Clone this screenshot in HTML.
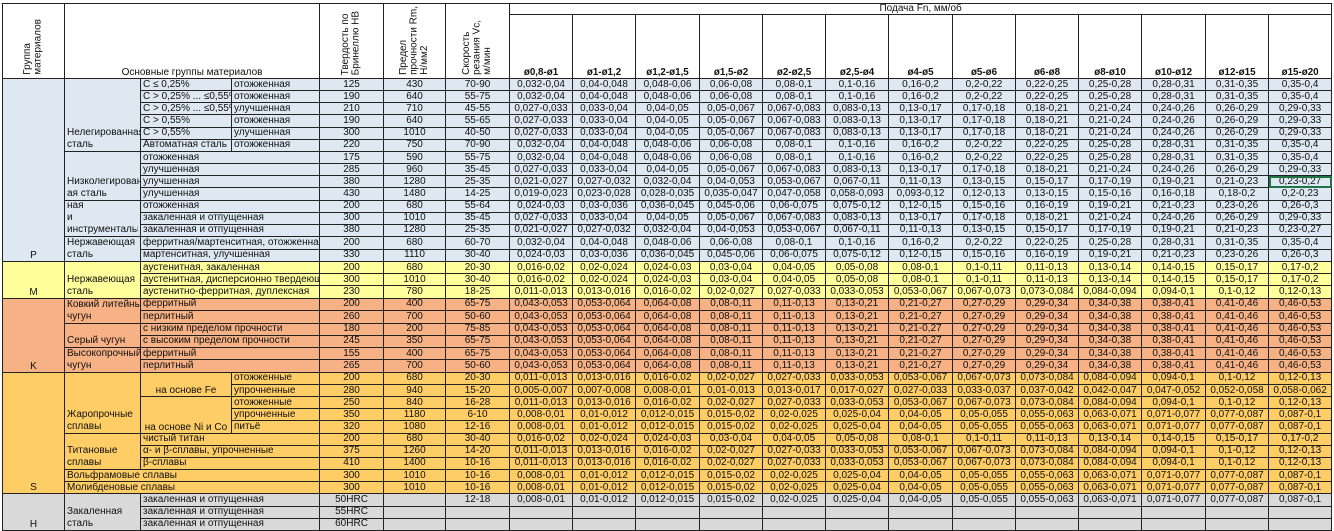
<!DOCTYPE html>
<html><head><meta charset="utf-8">
<style>
html,body{margin:0;padding:0;background:#fff;width:1334px;height:530px;overflow:hidden}
body{font-family:"Liberation Sans",Arial,sans-serif;font-size:10px;color:#111}
.top{position:absolute;left:0;top:0;width:1334px;height:3px;background:#fff;border-bottom:1px solid #d4d4d4}
table{position:absolute;left:2px;top:3px;border-collapse:collapse;table-layout:fixed;width:1329px}
td{border:1px solid #222;padding:0 2px;height:11.1px;line-height:10px;white-space:nowrap;overflow:hidden;text-align:center;font-size:10px}
tr{height:12.16px}
td.l{text-align:left}
td.b{vertical-align:bottom}
.h td{background:#fff}
.v{writing-mode:vertical-rl;transform:rotate(180deg);display:inline-block;text-align:left;line-height:10.5px;font-size:10px}
.ft{font-weight:bold;vertical-align:bottom;font-size:9.8px}
.p td{background:#dde8f3}
.m td{background:#ffff9c}
.k td{background:#f6b185}
.s td{background:#ffcd66}
.hh td{background:#d9d9d9}
.wr{white-space:nowrap;text-align:left;vertical-align:bottom;line-height:12px}
</style></head><body>
<div class="top"></div>
<table>
<colgroup>
<col style="width:62px"><col style="width:76px"><col style="width:91px"><col style="width:88px"><col style="width:64px"><col style="width:62px"><col style="width:64px">
<col style="width:63px"><col style="width:63px"><col style="width:64px"><col style="width:63px"><col style="width:63px"><col style="width:63px"><col style="width:64px"><col style="width:63px"><col style="width:63px"><col style="width:63px"><col style="width:64px"><col style="width:63px"><col style="width:63px">
</colgroup>
<tr class="h" style="height:11px"><td rowspan="2" class="b"><span class="v">Группа<br>материалов</span></td><td rowspan="2" colspan="3" class="b">Основные группы материалов</td><td rowspan="2" class="b"><span class="v">Твердость по<br>Бринеллю HB</span></td><td rowspan="2" class="b"><span class="v">Предел<br>прочности Rm,<br>Н/мм2</span></td><td rowspan="2" class="b"><span class="v">Скорость<br>резания Vc,<br>м/мин</span></td><td colspan="13" style="height:10px">Подача Fn, мм/об</td></tr>
<tr class="h" style="height:64px"><td class="ft">ø0,8-ø1</td><td class="ft">ø1-ø1,2</td><td class="ft">ø1,2-ø1,5</td><td class="ft">ø1,5-ø2</td><td class="ft">ø2-ø2,5</td><td class="ft">ø2,5-ø4</td><td class="ft">ø4-ø5</td><td class="ft">ø5-ø6</td><td class="ft">ø6-ø8</td><td class="ft">ø8-ø10</td><td class="ft">ø10-ø12</td><td class="ft">ø12-ø15</td><td class="ft">ø15-ø20</td></tr>

<tr class="p"><td rowspan="15" class="b">P</td><td rowspan="6" class="wr">Нелегированная<br>сталь</td><td class="l">C ≤ 0,25%</td><td class="l">отожженная</td><td>125</td><td>430</td><td>70-90</td><td>0,032-0,04</td><td>0,04-0,048</td><td>0,048-0,06</td><td>0,06-0,08</td><td>0,08-0,1</td><td>0,1-0,16</td><td>0,16-0,2</td><td>0,2-0,22</td><td>0,22-0,25</td><td>0,25-0,28</td><td>0,28-0,31</td><td>0,31-0,35</td><td>0,35-0,4</td></tr>
<tr class="p"><td class="l">C &gt; 0,25% ... ≤0,55%</td><td class="l">отожженная</td><td>190</td><td>640</td><td>55-75</td><td>0,032-0,04</td><td>0,04-0,048</td><td>0,048-0,06</td><td>0,06-0,08</td><td>0,08-0,1</td><td>0,1-0,16</td><td>0,16-0,2</td><td>0,2-0,22</td><td>0,22-0,25</td><td>0,25-0,28</td><td>0,28-0,31</td><td>0,31-0,35</td><td>0,35-0,4</td></tr>
<tr class="p"><td class="l">C &gt; 0,25% ... ≤0,55%</td><td class="l">улучшенная</td><td>210</td><td>710</td><td>45-55</td><td>0,027-0,033</td><td>0,033-0,04</td><td>0,04-0,05</td><td>0,05-0,067</td><td>0,067-0,083</td><td>0,083-0,13</td><td>0,13-0,17</td><td>0,17-0,18</td><td>0,18-0,21</td><td>0,21-0,24</td><td>0,24-0,26</td><td>0,26-0,29</td><td>0,29-0,33</td></tr>
<tr class="p"><td class="l">C &gt; 0,55%</td><td class="l">отожженная</td><td>190</td><td>640</td><td>55-65</td><td>0,027-0,033</td><td>0,033-0,04</td><td>0,04-0,05</td><td>0,05-0,067</td><td>0,067-0,083</td><td>0,083-0,13</td><td>0,13-0,17</td><td>0,17-0,18</td><td>0,18-0,21</td><td>0,21-0,24</td><td>0,24-0,26</td><td>0,26-0,29</td><td>0,29-0,33</td></tr>
<tr class="p"><td class="l">C &gt; 0,55%</td><td class="l">улучшенная</td><td>300</td><td>1010</td><td>40-50</td><td>0,027-0,033</td><td>0,033-0,04</td><td>0,04-0,05</td><td>0,05-0,067</td><td>0,067-0,083</td><td>0,083-0,13</td><td>0,13-0,17</td><td>0,17-0,18</td><td>0,18-0,21</td><td>0,21-0,24</td><td>0,24-0,26</td><td>0,26-0,29</td><td>0,29-0,33</td></tr>
<tr class="p"><td class="l">Автоматная сталь</td><td class="l">отожженная</td><td>220</td><td>750</td><td>70-90</td><td>0,032-0,04</td><td>0,04-0,048</td><td>0,048-0,06</td><td>0,06-0,08</td><td>0,08-0,1</td><td>0,1-0,16</td><td>0,16-0,2</td><td>0,2-0,22</td><td>0,22-0,25</td><td>0,25-0,28</td><td>0,28-0,31</td><td>0,31-0,35</td><td>0,35-0,4</td></tr>
<tr class="p"><td rowspan="4" class="wr">Низколегированн<br>ая сталь</td><td class="l" colspan="2">отожженная</td><td>175</td><td>590</td><td>55-75</td><td>0,032-0,04</td><td>0,04-0,048</td><td>0,048-0,06</td><td>0,06-0,08</td><td>0,08-0,1</td><td>0,1-0,16</td><td>0,16-0,2</td><td>0,2-0,22</td><td>0,22-0,25</td><td>0,25-0,28</td><td>0,28-0,31</td><td>0,31-0,35</td><td>0,35-0,4</td></tr>
<tr class="p"><td class="l" colspan="2">улучшенная</td><td>285</td><td>960</td><td>35-45</td><td>0,027-0,033</td><td>0,033-0,04</td><td>0,04-0,05</td><td>0,05-0,067</td><td>0,067-0,083</td><td>0,083-0,13</td><td>0,13-0,17</td><td>0,17-0,18</td><td>0,18-0,21</td><td>0,21-0,24</td><td>0,24-0,26</td><td>0,26-0,29</td><td>0,29-0,33</td></tr>
<tr class="p"><td class="l" colspan="2">улучшенная</td><td>380</td><td>1280</td><td>25-35</td><td>0,021-0,027</td><td>0,027-0,032</td><td>0,032-0,04</td><td>0,04-0,053</td><td>0,053-0,067</td><td>0,067-0,11</td><td>0,11-0,13</td><td>0,13-0,15</td><td>0,15-0,17</td><td>0,17-0,19</td><td>0,19-0,21</td><td>0,21-0,23</td><td style="outline:2px solid #217346;outline-offset:-2px">0,23-0,27</td></tr>
<tr class="p"><td class="l" colspan="2">улучшенная</td><td>430</td><td>1480</td><td>14-25</td><td>0,019-0,023</td><td>0,023-0,028</td><td>0,028-0,035</td><td>0,035-0,047</td><td>0,047-0,058</td><td>0,058-0,093</td><td>0,093-0,12</td><td>0,12-0,13</td><td>0,13-0,15</td><td>0,15-0,16</td><td>0,16-0,18</td><td>0,18-0,2</td><td>0,2-0,23</td></tr>
<tr class="p"><td rowspan="3" class="wr" style="padding-bottom:0"><div style="height:34px;overflow:hidden;display:flex;flex-direction:column;justify-content:flex-end">Высоколегирован<br>ная<br>и<br>инструментальна</div></td><td class="l" colspan="2">отожженная</td><td>200</td><td>680</td><td>55-64</td><td>0,024-0,03</td><td>0,03-0,036</td><td>0,036-0,045</td><td>0,045-0,06</td><td>0,06-0,075</td><td>0,075-0,12</td><td>0,12-0,15</td><td>0,15-0,16</td><td>0,16-0,19</td><td>0,19-0,21</td><td>0,21-0,23</td><td>0,23-0,26</td><td>0,26-0,3</td></tr>
<tr class="p"><td class="l" colspan="2">закаленная и отпущенная</td><td>300</td><td>1010</td><td>35-45</td><td>0,027-0,033</td><td>0,033-0,04</td><td>0,04-0,05</td><td>0,05-0,067</td><td>0,067-0,083</td><td>0,083-0,13</td><td>0,13-0,17</td><td>0,17-0,18</td><td>0,18-0,21</td><td>0,21-0,24</td><td>0,24-0,26</td><td>0,26-0,29</td><td>0,29-0,33</td></tr>
<tr class="p"><td class="l" colspan="2">закаленная и отпущенная</td><td>380</td><td>1280</td><td>25-35</td><td>0,021-0,027</td><td>0,027-0,032</td><td>0,032-0,04</td><td>0,04-0,053</td><td>0,053-0,067</td><td>0,067-0,11</td><td>0,11-0,13</td><td>0,13-0,15</td><td>0,15-0,17</td><td>0,17-0,19</td><td>0,19-0,21</td><td>0,21-0,23</td><td>0,23-0,27</td></tr>
<tr class="p"><td rowspan="2" class="wr">Нержавеющая<br>сталь</td><td class="l" colspan="2">ферритная/мартенситная, отожженная</td><td>200</td><td>680</td><td>60-70</td><td>0,032-0,04</td><td>0,04-0,048</td><td>0,048-0,06</td><td>0,06-0,08</td><td>0,08-0,1</td><td>0,1-0,16</td><td>0,16-0,2</td><td>0,2-0,22</td><td>0,22-0,25</td><td>0,25-0,28</td><td>0,28-0,31</td><td>0,31-0,35</td><td>0,35-0,4</td></tr>
<tr class="p"><td class="l" colspan="2">мартенситная, улучшенная</td><td>330</td><td>1110</td><td>30-40</td><td>0,024-0,03</td><td>0,03-0,036</td><td>0,036-0,045</td><td>0,045-0,06</td><td>0,06-0,075</td><td>0,075-0,12</td><td>0,12-0,15</td><td>0,15-0,16</td><td>0,16-0,19</td><td>0,19-0,21</td><td>0,21-0,23</td><td>0,23-0,26</td><td>0,26-0,3</td></tr>

<tr class="m"><td rowspan="3" class="b">M</td><td rowspan="3" class="wr">Нержавеющая<br>сталь</td><td class="l" colspan="2">аустенитная, закаленная</td><td>200</td><td>680</td><td>20-30</td><td>0,016-0,02</td><td>0,02-0,024</td><td>0,024-0,03</td><td>0,03-0,04</td><td>0,04-0,05</td><td>0,05-0,08</td><td>0,08-0,1</td><td>0,1-0,11</td><td>0,11-0,13</td><td>0,13-0,14</td><td>0,14-0,15</td><td>0,15-0,17</td><td>0,17-0,2</td></tr>
<tr class="m"><td class="l" colspan="2">аустенитная, дисперсионно твердеющая</td><td>300</td><td>1010</td><td>30-40</td><td>0,016-0,02</td><td>0,02-0,024</td><td>0,024-0,03</td><td>0,03-0,04</td><td>0,04-0,05</td><td>0,05-0,08</td><td>0,08-0,1</td><td>0,1-0,11</td><td>0,11-0,13</td><td>0,13-0,14</td><td>0,14-0,15</td><td>0,15-0,17</td><td>0,17-0,2</td></tr>
<tr class="m"><td class="l" colspan="2">аустенитно-ферритная, дуплексная</td><td>230</td><td>780</td><td>18-25</td><td>0,011-0,013</td><td>0,013-0,016</td><td>0,016-0,02</td><td>0,02-0,027</td><td>0,027-0,033</td><td>0,033-0,053</td><td>0,053-0,067</td><td>0,067-0,073</td><td>0,073-0,084</td><td>0,084-0,094</td><td>0,094-0,1</td><td>0,1-0,12</td><td>0,12-0,13</td></tr>

<tr class="k"><td rowspan="6" class="b">K</td><td rowspan="2" class="wr">Ковкий литейный<br>чугун</td><td class="l" colspan="2">ферритный</td><td>200</td><td>400</td><td>65-75</td><td>0,043-0,053</td><td>0,053-0,064</td><td>0,064-0,08</td><td>0,08-0,11</td><td>0,11-0,13</td><td>0,13-0,21</td><td>0,21-0,27</td><td>0,27-0,29</td><td>0,29-0,34</td><td>0,34-0,38</td><td>0,38-0,41</td><td>0,41-0,46</td><td>0,46-0,53</td></tr>
<tr class="k"><td class="l" colspan="2">перлитный</td><td>260</td><td>700</td><td>50-60</td><td>0,043-0,053</td><td>0,053-0,064</td><td>0,064-0,08</td><td>0,08-0,11</td><td>0,11-0,13</td><td>0,13-0,21</td><td>0,21-0,27</td><td>0,27-0,29</td><td>0,29-0,34</td><td>0,34-0,38</td><td>0,38-0,41</td><td>0,41-0,46</td><td>0,46-0,53</td></tr>
<tr class="k"><td rowspan="2" class="wr">Серый чугун</td><td class="l" colspan="2">с низким пределом прочности</td><td>180</td><td>200</td><td>75-85</td><td>0,043-0,053</td><td>0,053-0,064</td><td>0,064-0,08</td><td>0,08-0,11</td><td>0,11-0,13</td><td>0,13-0,21</td><td>0,21-0,27</td><td>0,27-0,29</td><td>0,29-0,34</td><td>0,34-0,38</td><td>0,38-0,41</td><td>0,41-0,46</td><td>0,46-0,53</td></tr>
<tr class="k"><td class="l" colspan="2">с высоким пределом прочности</td><td>245</td><td>350</td><td>65-75</td><td>0,043-0,053</td><td>0,053-0,064</td><td>0,064-0,08</td><td>0,08-0,11</td><td>0,11-0,13</td><td>0,13-0,21</td><td>0,21-0,27</td><td>0,27-0,29</td><td>0,29-0,34</td><td>0,34-0,38</td><td>0,38-0,41</td><td>0,41-0,46</td><td>0,46-0,53</td></tr>
<tr class="k"><td rowspan="2" class="wr">Высокопрочный<br>чугун</td><td class="l" colspan="2">ферритный</td><td>155</td><td>400</td><td>65-75</td><td>0,043-0,053</td><td>0,053-0,064</td><td>0,064-0,08</td><td>0,08-0,11</td><td>0,11-0,13</td><td>0,13-0,21</td><td>0,21-0,27</td><td>0,27-0,29</td><td>0,29-0,34</td><td>0,34-0,38</td><td>0,38-0,41</td><td>0,41-0,46</td><td>0,46-0,53</td></tr>
<tr class="k"><td class="l" colspan="2">перлитный</td><td>265</td><td>700</td><td>50-60</td><td>0,043-0,053</td><td>0,053-0,064</td><td>0,064-0,08</td><td>0,08-0,11</td><td>0,11-0,13</td><td>0,13-0,21</td><td>0,21-0,27</td><td>0,27-0,29</td><td>0,29-0,34</td><td>0,34-0,38</td><td>0,38-0,41</td><td>0,41-0,46</td><td>0,46-0,53</td></tr>

<tr class="s"><td rowspan="10" class="b">S</td><td rowspan="5" class="wr">Жаропрочные<br>сплавы</td><td rowspan="2" class="b">на основе Fe</td><td class="l">отожженные</td><td>200</td><td>680</td><td>20-30</td><td>0,011-0,013</td><td>0,013-0,016</td><td>0,016-0,02</td><td>0,02-0,027</td><td>0,027-0,033</td><td>0,033-0,053</td><td>0,053-0,067</td><td>0,067-0,073</td><td>0,073-0,084</td><td>0,084-0,094</td><td>0,094-0,1</td><td>0,1-0,12</td><td>0,12-0,13</td></tr>
<tr class="s"><td class="l">упрочненные</td><td>280</td><td>940</td><td>15-20</td><td>0,005-0,007</td><td>0,007-0,008</td><td>0,008-0,01</td><td>0,01-0,013</td><td>0,013-0,017</td><td>0,017-0,027</td><td>0,027-0,033</td><td>0,033-0,037</td><td>0,037-0,042</td><td>0,042-0,047</td><td>0,047-0,052</td><td>0,052-0,058</td><td>0,058-0,062</td></tr>
<tr class="s"><td rowspan="3" class="b">на основе Ni и Co</td><td class="l">отожженные</td><td>250</td><td>840</td><td>16-28</td><td>0,011-0,013</td><td>0,013-0,016</td><td>0,016-0,02</td><td>0,02-0,027</td><td>0,027-0,033</td><td>0,033-0,053</td><td>0,053-0,067</td><td>0,067-0,073</td><td>0,073-0,084</td><td>0,084-0,094</td><td>0,094-0,1</td><td>0,1-0,12</td><td>0,12-0,13</td></tr>
<tr class="s"><td class="l">упрочненные</td><td>350</td><td>1180</td><td>6-10</td><td>0,008-0,01</td><td>0,01-0,012</td><td>0,012-0,015</td><td>0,015-0,02</td><td>0,02-0,025</td><td>0,025-0,04</td><td>0,04-0,05</td><td>0,05-0,055</td><td>0,055-0,063</td><td>0,063-0,071</td><td>0,071-0,077</td><td>0,077-0,087</td><td>0,087-0,1</td></tr>
<tr class="s"><td class="l">питьё</td><td>320</td><td>1080</td><td>12-16</td><td>0,008-0,01</td><td>0,01-0,012</td><td>0,012-0,015</td><td>0,015-0,02</td><td>0,02-0,025</td><td>0,025-0,04</td><td>0,04-0,05</td><td>0,05-0,055</td><td>0,055-0,063</td><td>0,063-0,071</td><td>0,071-0,077</td><td>0,077-0,087</td><td>0,087-0,1</td></tr>
<tr class="s"><td rowspan="3" class="wr">Титановые<br>сплавы</td><td class="l" colspan="2">чистый титан</td><td>200</td><td>680</td><td>30-40</td><td>0,016-0,02</td><td>0,02-0,024</td><td>0,024-0,03</td><td>0,03-0,04</td><td>0,04-0,05</td><td>0,05-0,08</td><td>0,08-0,1</td><td>0,1-0,11</td><td>0,11-0,13</td><td>0,13-0,14</td><td>0,14-0,15</td><td>0,15-0,17</td><td>0,17-0,2</td></tr>
<tr class="s"><td class="l" colspan="2">α- и β-сплавы, упрочненные</td><td>375</td><td>1260</td><td>14-20</td><td>0,011-0,013</td><td>0,013-0,016</td><td>0,016-0,02</td><td>0,02-0,027</td><td>0,027-0,033</td><td>0,033-0,053</td><td>0,053-0,067</td><td>0,067-0,073</td><td>0,073-0,084</td><td>0,084-0,094</td><td>0,094-0,1</td><td>0,1-0,12</td><td>0,12-0,13</td></tr>
<tr class="s"><td class="l" colspan="2">β-сплавы</td><td>410</td><td>1400</td><td>10-16</td><td>0,011-0,013</td><td>0,013-0,016</td><td>0,016-0,02</td><td>0,02-0,027</td><td>0,027-0,033</td><td>0,033-0,053</td><td>0,053-0,067</td><td>0,067-0,073</td><td>0,073-0,084</td><td>0,084-0,094</td><td>0,094-0,1</td><td>0,1-0,12</td><td>0,12-0,13</td></tr>
<tr class="s"><td class="l" colspan="3">Вольфрамовые сплавы</td><td>300</td><td>1010</td><td>10-16</td><td>0,008-0,01</td><td>0,01-0,012</td><td>0,012-0,015</td><td>0,015-0,02</td><td>0,02-0,025</td><td>0,025-0,04</td><td>0,04-0,05</td><td>0,05-0,055</td><td>0,055-0,063</td><td>0,063-0,071</td><td>0,071-0,077</td><td>0,077-0,087</td><td>0,087-0,1</td></tr>
<tr class="s"><td class="l" colspan="3">Молибденовые сплавы</td><td>300</td><td>1010</td><td>10-16</td><td>0,008-0,01</td><td>0,01-0,012</td><td>0,012-0,015</td><td>0,015-0,02</td><td>0,02-0,025</td><td>0,025-0,04</td><td>0,04-0,05</td><td>0,05-0,055</td><td>0,055-0,063</td><td>0,063-0,071</td><td>0,071-0,077</td><td>0,077-0,087</td><td>0,087-0,1</td></tr>

<tr class="hh"><td rowspan="3" class="b">H</td><td rowspan="3" class="wr">Закаленная<br>сталь</td><td class="l" colspan="2">закаленная и отпущенная</td><td>50HRC</td><td></td><td>12-18</td><td>0,008-0,01</td><td>0,01-0,012</td><td>0,012-0,015</td><td>0,015-0,02</td><td>0,02-0,025</td><td>0,025-0,04</td><td>0,04-0,05</td><td>0,05-0,055</td><td>0,055-0,063</td><td>0,063-0,071</td><td>0,071-0,077</td><td>0,077-0,087</td><td>0,087-0,1</td></tr>
<tr class="hh"><td class="l" colspan="2">закаленная и отпущенная</td><td>55HRC</td><td></td><td></td><td></td><td></td><td></td><td></td><td></td><td></td><td></td><td></td><td></td><td></td><td></td><td></td><td></td></tr>
<tr class="hh"><td class="l" colspan="2">закаленная и отпущенная</td><td>60HRC</td><td></td><td></td><td></td><td></td><td></td><td></td><td></td><td></td><td></td><td></td><td></td><td></td><td></td><td></td><td></td></tr>
</table>
</body></html>
